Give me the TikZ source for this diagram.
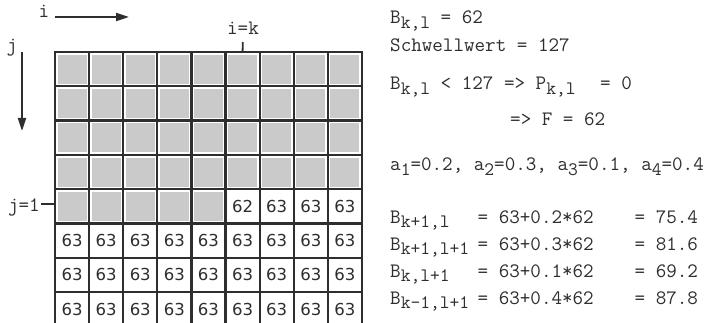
\documentclass[tikz,border=0pt]{standalone}
\usepackage{fontspec}
\newfontfamily\cellfont{DejaVu Sans}
\usetikzlibrary{arrows.meta,calc,positioning}
\definecolor{ink}{HTML}{2E2E2E}
\definecolor{cellgray}{HTML}{CACACA}
\newcommand{\subidx}[1]{\raisebox{-4.5pt}{\fontsize{19}{20}\selectfont #1}}

\begin{document}
\begin{tikzpicture}[
    x=1pt, y=-1pt,
    every node/.style={text=ink},
    frame/.style={draw=ink, line width=2.2pt, minimum width=34.1pt, minimum height=34.3pt, inner sep=0pt, outer sep=0pt, font=\cellfont\fontsize{16.5}{16.5}\selectfont},
    shade/.style={fill=cellgray, minimum width=29pt, minimum height=29pt, inner sep=0pt},
    txt/.style={anchor=base west, inner sep=0pt, font=\ttfamily\fontsize{20.5}{22}\selectfont},
    axis/.style={-{Triangle[length=13pt, width=8pt]}, draw=ink, line width=2pt}
]
\useasboundingbox (0,0) rectangle (727,323);

% grid of pixels
\foreach \r in {0,...,7}
  \foreach \c in {0,...,8} {
    \pgfmathtruncatemacro\isgray{(\r<4)||(\r==4 && \c<5)}
    \pgfmathtruncatemacro\isk{(\r==4 && \c==5)}
    \ifnum\isgray=1
      \node[shade] at ({55+34.1*(\c+0.5)},{52+34.3*(\r+0.5)}) {};
      \def\val{}
    \else\ifnum\isk=1 \def\val{62}\else\def\val{63}\fi\fi
    \node[frame] (c\c-\r) at ({55+34.1*(\c+0.5)},{52+34.3*(\r+0.5)}) {\val};
  }

% axes
\node[txt, anchor=base] (i) at (44,18) {i};
\coordinate (istart) at (55,17);
\coordinate (iend) at (129,17);
\draw[axis] (istart) -- (iend);
\node[txt, anchor=base] (j) at (12,52) {j};
\coordinate (jstart) at (22,52);
\coordinate (jend) at (22,131);
\draw[axis] (jstart) -- (jend);

\node[txt, anchor=base] (ik) at (243,35) {i=k};
\draw[ink, line width=1.8pt, shorten <=7pt] (ik.base) -- (c5-0.north);
\node[txt, anchor=base east] (j1) at (40,211) {j=1};
\coordinate (jtick) at (41,204);
\draw[ink, line width=1.8pt] (jtick) -- (c0-4.west |- jtick);

% computation
\node[txt] (bkl) at (390,24) {B\subidx{k,l} = 62};
\node[txt] (thr) at (390,52) {Schwellwert = 127};
\node[txt] (cmp) at (390,90) {B\subidx{k,l} < 127 => P\subidx{k,l}};
\node[txt] (pzero) at (600,90) {= 0};
\node[txt] (fval) at (510,126) {=> F = 62};
\node[txt] (wts) at (390,171) {a\subidx{1}=0.2, a\subidx{2}=0.3, a\subidx{3}=0.1, a\subidx{4}=0.4};

\foreach \lab/\wt/\res [count=\n] in {{k+1,l}/0.2/75.4, {k+1,l+1}/0.3/81.6, {k,l+1}/0.1/69.2, {k-1,l+1}/0.4/87.8} {
  \node[txt] (lhs\n) at (390,{196+27*\n}) {B\subidx{\lab}};
  \node[txt] (sum\n) at (477.5,{196+27*\n}) {= 63+\wt*62};
  \node[txt] (res\n) at (634.5,{196+27*\n}) {= \res};
}
\end{tikzpicture}
\end{document}
